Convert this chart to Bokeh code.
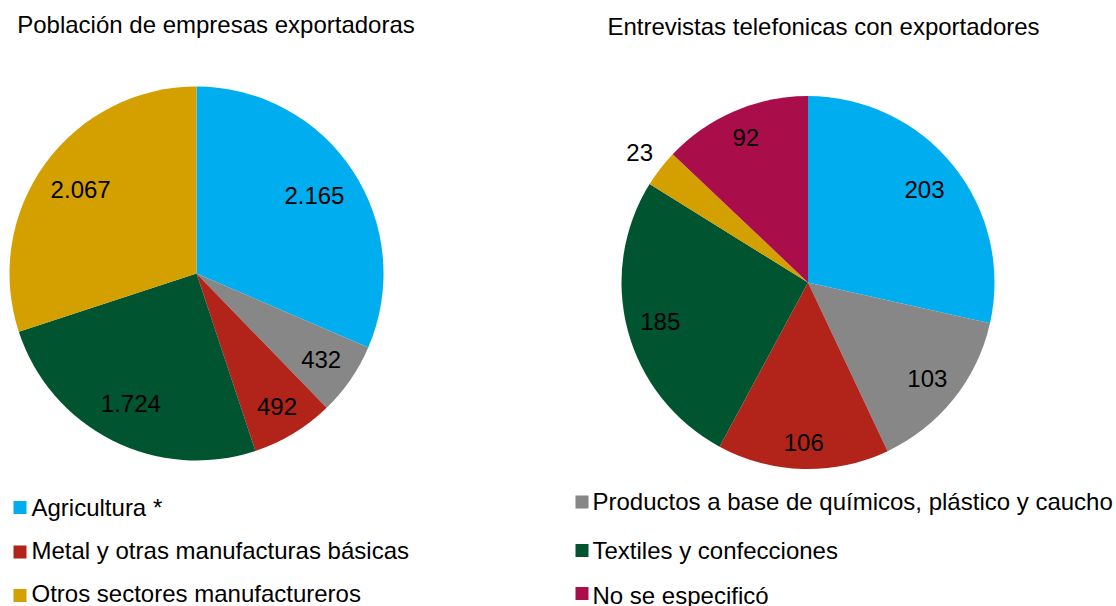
import numpy as np
from bokeh.plotting import figure
from bokeh.models import ColumnDataSource, Range1d
from bokeh.core.properties import value
from bokeh.embed import file_html
from bokeh.resources import INLINE

# ---------------- data ----------------
categories = [
    "Agricultura *",
    "Productos a base de químicos, plástico y caucho",
    "Metal y otras manufacturas básicas",
    "Textiles y confecciones",
    "Otros sectores manufactureros",
    "No se especificó",
]
colors = ["#00AEEF", "#878787", "#B2241A", "#00542F", "#D4A000", "#A90E4B"]
poblacion = [2165, 432, 492, 1724, 2067, 0]
entrevistas = [203, 103, 106, 185, 23, 92]
titles = ["Población de empresas exportadoras", "Entrevistas telefonicas con exportadores"]

# ---------------- layout (reference pixel coords, y downward) ----------------
REF_H = 606
FONT = value("Liberation Sans")
FS = "24px"

def Y(yref):
    return REF_H - np.asarray(yref, dtype=float)

p = figure(width=1116, height=606, x_range=Range1d(0, 1116), y_range=Range1d(0, 606),
           output_backend="svg", toolbar_location=None,
           x_axis_location=None, y_axis_location=None, min_border=0)
p.grid.visible = False
p.outline_line_color = None
p.background_fill_color = "white"
p.border_fill_color = "white"


def fmt(v):
    return f"{v:,}".replace(",", ".")


def pie(values, cx, cy_ref, r, fracs):
    vals = np.asarray(values, dtype=float)
    cum = np.concatenate([[0.0], np.cumsum(vals)]) / vals.sum()
    t0 = cum[:-1] * 2 * np.pi
    t1 = cum[1:] * 2 * np.pi
    keep = vals > 0
    src = ColumnDataSource(dict(
        start=(np.pi / 2 - t1)[keep], end=(np.pi / 2 - t0)[keep],
        color=np.array(colors)[keep],
    ))
    cy = float(Y(cy_ref))
    p.wedge(x=cx, y=cy, radius=r, start_angle="start", end_angle="end",
            fill_color="color", line_color=None, source=src)
    mid = ((t0 + t1) / 2)[keep]
    f = np.asarray(fracs, dtype=float)
    lx = cx + f * r * np.sin(mid)
    ly = cy + f * r * np.cos(mid)
    lsrc = ColumnDataSource(dict(x=lx, y=ly, t=[fmt(int(v)) for v in vals[keep]]))
    p.text(x="x", y="y", text="t", source=lsrc, text_font=FONT, text_font_size=FS,
           text_align="center", text_baseline="middle", text_color="#000000")


pie(poblacion, 196, 273, 187, [0.755, 0.81, 0.83, 0.78, 0.765])
pie(entrevistas, 807.5, 282, 186.5, [0.80, 0.82, 0.86, 0.82, 1.14, 0.845])

# titles
p.text(x=[215.5, 823], y=Y([24, 25.5]), text=titles, text_font=FONT, text_font_size=FS,
       text_align="center", text_baseline="middle", text_color="#000000")

# legend: two columns, items alternate between columns
sq_x = [19.5, 581.5]
tx_x = [31, 592]
sq_y = [[507, 551.5, 595], [501.5, 550, 593]]
txt_y = [[507, 549.5, 593], [501, 549.5, 594.5]]
lx, ly, lc, tx, ty = [], [], [], [], []
for i, cat in enumerate(categories):
    col, row = i % 2, i // 2
    lx.append(sq_x[col]); ly.append(float(Y(sq_y[col][row]))); lc.append(colors[i])
    tx.append(tx_x[col]); ty.append(float(Y(txt_y[col][row])))
p.rect(x=lx, y=ly, width=13, height=13, fill_color=lc, line_color=None)
p.text(x=tx, y=ty, text=categories, text_font=FONT, text_font_size=FS,
       text_align="left", text_baseline="middle", text_color="#000000")

open("out.html", "w").write(file_html(p, INLINE))
